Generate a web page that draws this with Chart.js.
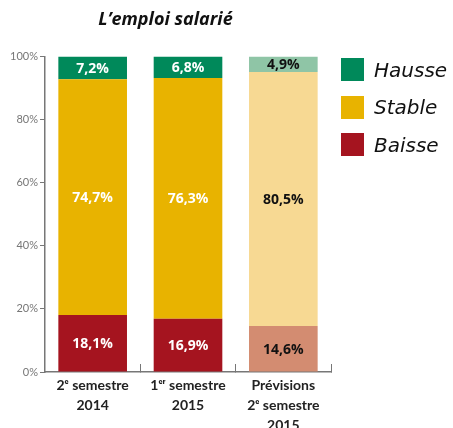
<!DOCTYPE html>
<html>
<head>
<meta charset="utf-8">
<script src="https://cdn.jsdelivr.net/npm/chart.js@4"></script>
<style>
  body { margin: 0; background: #fff; }
  .wrap { position: relative; width: 453px; height: 428px; overflow: hidden; }
  .chart-box { position: absolute; left: 0; top: 0; width: 345px; height: 428px; }
  .legend { position: absolute; left: 341px; top: 58px; margin: 0; padding: 0; list-style: none; }
  .legend li { display: flex; align-items: center; height: 23px; margin-bottom: 14.5px;
    font-family: 'DejaVu Sans', sans-serif; font-style: italic; font-size: 20px; color: #111; }
  .legend span { display: inline-block; width: 23px; height: 23px; margin-right: 10px; }
</style>
</head>
<body>
<div class="wrap">
  <div class="chart-box"><canvas id="emploiChart"></canvas></div>
  <ul class="legend" id="legend"></ul>
</div>
<script>
const categories = [
  ['2ᵉ semestre', '2014'],
  ['1ᵉʳ semestre', '2015'],
  ['Prévisions', '2ᵉ semestre', '2015']
];
const baisse = [18.1, 16.9, 14.6];
const stable = [74.7, 76.3, 80.5];
const hausse = [7.2, 6.8, 4.9];
const yTicks = [0, 20, 40, 60, 80, 100];

// couleurs : la 3e barre (prévisions) est plus pâle
const baisseColors = ['#a5141f', '#a5141f', '#d38c71'];
const stableColors = ['#e8b300', '#e8b300', '#f7d993'];
const hausseColors = ['#00895a', '#00895a', '#8fc5a6'];
const labelColors = ['#ffffff', '#ffffff', '#111111'];

const series = [
  { name: 'Hausse', color: hausseColors[0] },
  { name: 'Stable', color: stableColors[0] },
  { name: 'Baisse', color: baisseColors[0] }
];

const legend = document.getElementById('legend');
series.forEach(s => {
  const li = document.createElement('li');
  li.innerHTML = '<span style="background:' + s.color + '"></span>' + s.name;
  legend.appendChild(li);
});

const barLabels = {
  id: 'barLabels',
  afterDatasetsDraw(chart) {
    const ctx = chart.ctx;
    ctx.save();
    ctx.font = 'bold 14px "Open Sans", sans-serif';
    ctx.textAlign = 'center';
    ctx.textBaseline = 'middle';
    chart.data.datasets.forEach((ds, i) => {
      const meta = chart.getDatasetMeta(i);
      meta.data.forEach((bar, j) => {
        const txt = ds.data[j].toFixed(1).replace('.', ',') + '%';
        ctx.fillStyle = labelColors[j];
        ctx.fillText(txt, bar.x, (bar.y + bar.base) / 2 + 1);
      });
    });
    ctx.restore();
  }
};

new Chart(document.getElementById('emploiChart').getContext('2d'), {
  type: 'bar',
  data: {
    labels: categories,
    datasets: [
      { label: 'Baisse', data: baisse, backgroundColor: baisseColors },
      { label: 'Stable', data: stable, backgroundColor: stableColors },
      { label: 'Hausse', data: hausse, backgroundColor: hausseColors }
    ]
  },
  options: {
    responsive: true,
    maintainAspectRatio: false,
    animation: false,
    layout: { padding: { right: 14 } },
    datasets: { bar: { categoryPercentage: 0.72, barPercentage: 1 } },
    plugins: {
      legend: { display: false },
      tooltip: { enabled: false },
      title: {
        display: true,
        text: 'L’emploi salarié',
        color: '#111',
        font: { family: 'Open Sans', size: 18, weight: 'bold', style: 'italic' },
        padding: { top: 9, bottom: 26 }
      }
    },
    scales: {
      x: {
        stacked: true,
        afterFit: (scale) => { scale.height = 56; },
        grid: { drawOnChartArea: false, tickLength: -8, color: '#777' },
        border: { color: '#777', width: 1.5 },
        ticks: {
          color: '#222',
          font: { family: 'Lato', size: 14, weight: 'bold', lineHeight: 1.4 },
          padding: 12,
          maxRotation: 0,
          autoSkip: false
        }
      },
      y: {
        stacked: true,
        min: 0,
        max: 100,
        afterFit: (scale) => { scale.width = 45; },
        afterBuildTicks: (scale) => { scale.ticks = yTicks.map(v => ({ value: v })); },
        grid: { drawOnChartArea: false, tickLength: 5, color: '#777' },
        border: { color: '#777', width: 1.5 },
        ticks: {
          color: '#777',
          font: { family: 'Lato', size: 11 },
          padding: 2,
          callback: (v) => v + '%'
        }
      }
    }
  },
  plugins: [barLabels]
});
</script>
</body>
</html>
